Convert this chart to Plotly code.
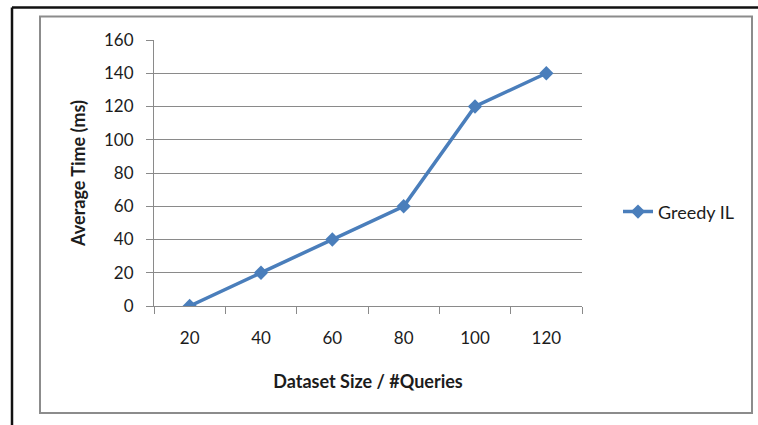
import plotly.graph_objects as go

# Chart data
dataset_sizes = ["20", "40", "60", "80", "100", "120"]
avg_time_ms = [0, 20, 40, 60, 120, 140]
y_ticks = [0, 20, 40, 60, 80, 100, 120, 140, 160]
series_name = "Greedy IL"

W, H = 758, 425
L, R, T, B = 154, 582, 39.5, 306.5  # plot-area edges in pixels

def px(x):
    return (x - L) / (R - L)

def py(y):
    return (B - y) / (B - T)

FONT = "Lato, 'Open Sans', sans-serif"
GRID = "#8a8a8a"
BLUE = "#4a7ebb"
TEXT = "#1c1c1c"

fig = go.Figure()
fig.add_trace(go.Scatter(
    x=dataset_sizes, y=avg_time_ms, name=series_name,
    mode="lines+markers",
    line=dict(color=BLUE, width=3.5),
    marker=dict(symbol="diamond", size=11, color=BLUE),
    showlegend=True,
))

shapes = [
    # inner chart frame
    dict(type="rect", xref="paper", yref="paper",
         x0=px(40), x1=px(752), y0=py(414), y1=py(16),
         line=dict(color="#8c8c8c", width=2), layer="below"),
    # outer black frame (top and left edges)
    dict(type="line", xref="paper", yref="paper",
         x0=px(12), x1=px(760), y0=py(7), y1=py(7),
         line=dict(color="#111111", width=2.5)),
    dict(type="line", xref="paper", yref="paper",
         x0=px(12), x1=px(12), y0=py(7), y1=py(430),
         line=dict(color="#111111", width=2.5)),
]

fig.update_layout(
    width=W, height=H,
    margin=dict(l=L, r=W - R, t=T, b=H - B, pad=0),
    paper_bgcolor="white", plot_bgcolor="white",
    font=dict(family=FONT, size=17, color=TEXT),
    shapes=shapes,
    showlegend=True,
    legend=dict(x=px(618), y=py(212), xanchor="left", yanchor="middle",
                font=dict(family=FONT, size=18, color=TEXT),
                bgcolor="rgba(0,0,0,0)"),
    xaxis=dict(
        type="category", range=[-0.5, 5.5],
        tickson="boundaries", ticks="outside", ticklen=7, tickcolor=GRID,
        showline=True, linecolor=GRID, linewidth=1,
        showgrid=False, zeroline=False,
        tickfont=dict(family=FONT, size=17, color=TEXT),
        ticklabelstandoff=17,
        title=dict(text="<b>Dataset Size / #Queries</b>", standoff=27,
                   font=dict(family=FONT, size=18, color=TEXT)),
    ),
    yaxis=dict(
        range=[0, 160], tickvals=y_ticks,
        ticks="outside", ticklen=7, tickcolor=GRID,
        showline=True, linecolor=GRID, linewidth=1,
        showgrid=True, gridcolor=GRID, gridwidth=1, zeroline=False,
        tickfont=dict(family=FONT, size=17, color=TEXT),
        ticklabelstandoff=9,
        title=dict(text="<b>Average Time (ms)</b>", standoff=13,
                   font=dict(family=FONT, size=18, color=TEXT)),
    ),
)

fig.write_html("out.html")
